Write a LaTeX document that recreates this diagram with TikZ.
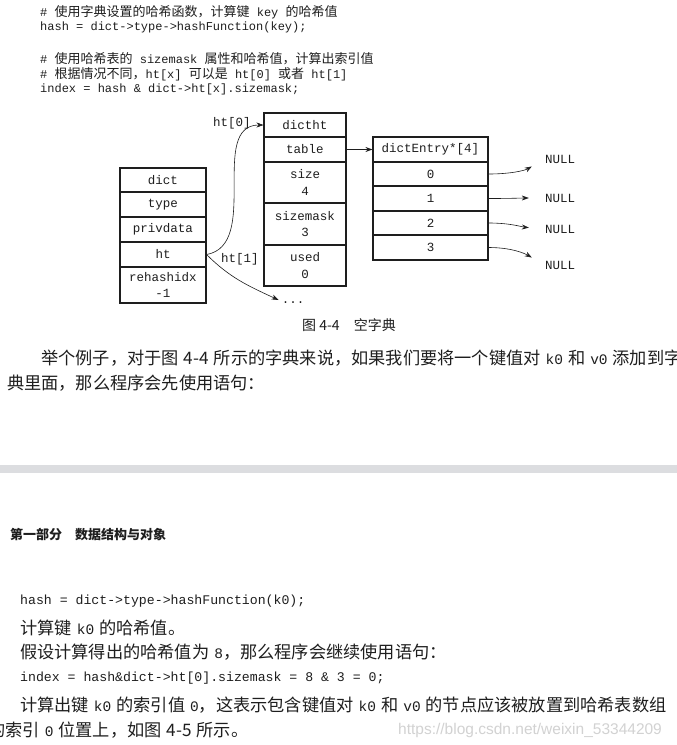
\documentclass[tikz,border=0pt]{standalone}
\usepackage{fontspec}
\setmainfont{Noto Sans CJK SC}
\setmonofont{Liberation Mono}
\newfontfamily\wmfont{Liberation Sans}
\usetikzlibrary{arrows.meta}
\definecolor{bandgray}{HTML}{DCDDE0}
\definecolor{wmgray}{HTML}{D2D2D2}
\definecolor{ink}{HTML}{1E1E1E}
\newcommand\zhc[1]{{\fontsize{13}{14}\rmfamily #1}}
\newcommand\cd[1]{{\fontsize{14.5}{14}\ttfamily #1}}
\newcommand\widesp{\spaceskip=5pt plus 1pt\relax}

\begin{document}
\begin{tikzpicture}[x=1pt, y=-1pt, every node/.style={text=ink},
    cell/.style={draw=ink, line width=1.1pt, inner sep=0pt, align=center,
      font=\fontsize{12.5}{16.5}\ttfamily},
    dcell/.style={cell, minimum width=86},
    hcell/.style={cell, minimum width=82},
    ecell/.style={cell, minimum width=115},
    ptr/.style={draw=ink, line width=0.6pt, -{Stealth[length=7pt,width=5pt]}},
    lbl/.style={inner sep=0pt, font=\fontsize{12.5}{14}\ttfamily},
    code/.style={anchor=west, inner sep=0pt, font=\fontsize{12}{14}\ttfamily},
    bigcode/.style={anchor=west, inner sep=0pt, font=\fontsize{13.2}{14}\ttfamily},
    body/.style={anchor=west, inner sep=0pt, font=\fontsize{17.2}{20}\selectfont\widesp}]
  \useasboundingbox (0,0) rectangle (677,745);
  \clip (0,0) rectangle (677,745);
  \fill[white] (0,0) rectangle (677,745);

  % code before the figure
  \node[code] (l1) at (40,12) {\# \zhc{使用字典设置的哈希函数，计算键} key \zhc{的哈希值}};
  \node[code] (l2) at (40,27) {hash = dict->type->hashFunction(key);};
  \node[code] (l3) at (40,59) {\# \zhc{使用哈希表的} sizemask \zhc{属性和哈希值，计算出索引值}};
  \node[code] (l4) at (40,74) {\# \zhc{根据情况不同，}ht[x] \zhc{可以是} ht[0] \zhc{或者} ht[1]};
  \node[code] (l5) at (40,89) {index = hash \& dict->ht[x].sizemask;};

  % dict
  \node[dcell, minimum height=24] (dict) at (163,180) {dict};
  \node[dcell, minimum height=25] (type) at (163,204.5) {type};
  \node[dcell, minimum height=25] (priv) at (163,229.5) {privdata};
  \node[dcell, minimum height=25] (ht) at (163,254.5) {ht};
  \node[dcell, minimum height=36] (rehash) at (163,285) {rehashidx\\-1};

  % dictht
  \node[hcell, minimum height=24] (dictht) at (305,125) {dictht};
  \node[hcell, minimum height=25] (table) at (305,149.5) {table};
  \node[hcell, minimum height=41] (size) at (305,182.5) {size\\4};
  \node[hcell, minimum height=42] (mask) at (305,224) {sizemask\\3};
  \node[hcell, minimum height=41] (used) at (305,265.5) {used\\0};

  % dictEntry*[4]
  \node[ecell, minimum height=25] (de) at (430.5,149.5) {dictEntry*[4]};
  \node[ecell, minimum height=24] (e0) at (430.5,174) {0};
  \node[ecell, minimum height=25] (e1) at (430.5,198.5) {1};
  \node[ecell, minimum height=24] (e2) at (430.5,223) {2};
  \node[ecell, minimum height=25] (e3) at (430.5,247.5) {3};

  \node[lbl] (null0) at (560,159) {NULL};
  \node[lbl] (null1) at (560,198) {NULL};
  \node[lbl] (null2) at (560,229) {NULL};
  \node[lbl] (null3) at (560,265) {NULL};

  \node[lbl] (ht0) at (232,123) {ht[0]};
  \node[lbl] (ht1) at (240,259) {ht[1]};
  \node[lbl, inner sep=3pt] (dots) at (293,303) {...};

  \draw[ptr] (ht.east) to[out=10,in=180] (dictht.west);
  \draw[ptr] (ht.east) to[out=-45,in=155] ([yshift=3pt]dots.west);
  \draw[ptr] (table.east) -- (de.west);
  \draw[ptr, shorten >=15pt] (e0.east) to[out=0,in=210] (null0.west);
  \draw[ptr, shorten >=16pt] (e1.east) to[out=0,in=180] (null1.west);
  \draw[ptr, shorten >=16pt] (e2.east) to[out=0,in=175] (null2.west);
  \draw[ptr, shorten >=15pt] (e3.east) to[out=0,in=150] (null3.west);

  \node[font=\fontsize{14}{16}\selectfont, inner sep=0pt] (cap) at (349,325) {图 4-4\quad 空字典};

  \node[body] (p1) at (41,358) {举个例子，对于图 4-4 所示的字典来说，如果我们要将一个键值对 \cd{k0} 和 \cd{v0} 添加到字};
  \node[body] (p2) at (7,383) {典里面，那么程序会先使用语句：};

  % page break
  \fill[bandgray] (0,465) rectangle (677,473);

  \node[anchor=west, inner sep=0pt, font=\fontsize{13}{14}\bfseries] (sec) at (10,535) {第一部分\quad 数据结构与对象};

  \node[bigcode] (h1) at (20,601) {hash = dict->type->hashFunction(k0);};
  \node[body] (b1) at (20,628) {计算键 \cd{k0} 的哈希值。};
  \node[body] (b2) at (20,652) {假设计算得出的哈希值为 \cd{8}，那么程序会继续使用语句：};
  \node[bigcode] (h2) at (20,678) {index = hash\&dict->ht[0].sizemask = 8 \& 3 = 0;};
  \node[body] (b3) at (20,705) {计算出键 \cd{k0} 的索引值 \cd{0}，这表示包含键值对 \cd{k0} 和 \cd{v0} 的节点应该被放置到哈希表数组};
  \node[body] (b4) at (-12,730) {的索引 \cd{0} 位置上，如图 4-5 所示。};
  \node[anchor=west, inner sep=0pt, text=wmgray, font=\wmfont\fontsize{15.5}{16}\selectfont] (wm) at (398,730) {https://blog.csdn.net/weixin\_53344209};
\end{tikzpicture}
\end{document}
